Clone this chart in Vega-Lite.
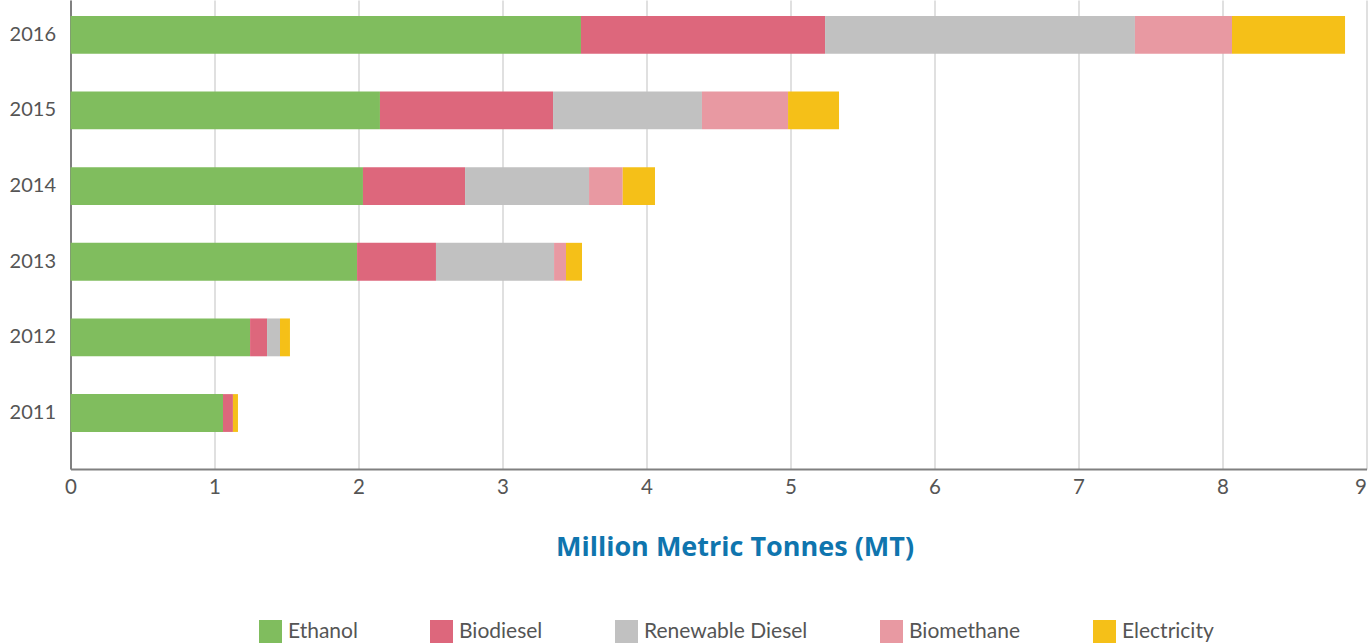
{
  "$schema": "https://vega.github.io/schema/vega-lite/v6.json",
  "autosize": {"type": "none"},
  "padding": {"left": 70.5, "top": 0, "right": 2.5, "bottom": 174},
  "width": 1296,
  "height": 469,
  "background": "white",
  "data": {"values": [
    {"year": "2016", "fuel": "Ethanol", "rank": 1, "value": 3.545},
    {"year": "2016", "fuel": "Biodiesel", "rank": 2, "value": 1.695},
    {"year": "2016", "fuel": "Renewable Diesel", "rank": 3, "value": 2.152},
    {"year": "2016", "fuel": "Biomethane", "rank": 4, "value": 0.674},
    {"year": "2016", "fuel": "Electricity", "rank": 5, "value": 0.785},
    {"year": "2015", "fuel": "Ethanol", "rank": 1, "value": 2.149},
    {"year": "2015", "fuel": "Biodiesel", "rank": 2, "value": 1.202},
    {"year": "2015", "fuel": "Renewable Diesel", "rank": 3, "value": 1.034},
    {"year": "2015", "fuel": "Biomethane", "rank": 4, "value": 0.598},
    {"year": "2015", "fuel": "Electricity", "rank": 5, "value": 0.354},
    {"year": "2014", "fuel": "Ethanol", "rank": 1, "value": 2.031},
    {"year": "2014", "fuel": "Biodiesel", "rank": 2, "value": 0.709},
    {"year": "2014", "fuel": "Renewable Diesel", "rank": 3, "value": 0.861},
    {"year": "2014", "fuel": "Biomethane", "rank": 4, "value": 0.234},
    {"year": "2014", "fuel": "Electricity", "rank": 5, "value": 0.224},
    {"year": "2013", "fuel": "Ethanol", "rank": 1, "value": 1.99},
    {"year": "2013", "fuel": "Biodiesel", "rank": 2, "value": 0.548},
    {"year": "2013", "fuel": "Renewable Diesel", "rank": 3, "value": 0.82},
    {"year": "2013", "fuel": "Biomethane", "rank": 4, "value": 0.083},
    {"year": "2013", "fuel": "Electricity", "rank": 5, "value": 0.111},
    {"year": "2012", "fuel": "Ethanol", "rank": 1, "value": 1.247},
    {"year": "2012", "fuel": "Biodiesel", "rank": 2, "value": 0.118},
    {"year": "2012", "fuel": "Renewable Diesel", "rank": 3, "value": 0.09},
    {"year": "2012", "fuel": "Electricity", "rank": 5, "value": 0.069},
    {"year": "2011", "fuel": "Ethanol", "rank": 1, "value": 1.059},
    {"year": "2011", "fuel": "Biodiesel", "rank": 2, "value": 0.069},
    {"year": "2011", "fuel": "Electricity", "rank": 5, "value": 0.035}
  ]},
  "mark": {"type": "bar"},
  "encoding": {
    "y": {
      "field": "year", "type": "nominal", "sort": "descending",
      "scale": {"paddingInner": 0.5, "paddingOuter": 0.35, "align": 0.3},
      "axis": {"title": null, "ticks": false, "labelPadding": 15, "labelFontSize": 20, "labelColor": "#555555", "labelFont": "Lato", "domainColor": "#808080", "domainWidth": 2}
    },
    "x": {
      "field": "value", "type": "quantitative", "stack": "zero",
      "scale": {"domain": [0, 9], "nice": false},
      "axis": {
        "title": "Million Metric Tonnes (MT)",
        "titleFont": "Open Sans", "titleFontSize": 27, "titleFontWeight": "bold", "titleColor": "#0f75ae",
        "titlePadding": 37, "titleX": 664,
        "tickCount": 9, "ticks": false, "labelPadding": 8, "labelFlush": false,
        "labelAlign": {"condition": {"test": "datum.value == 9", "value": "right"}, "value": "center"},
        "labelFontSize": 20.5, "labelColor": "#555555", "labelFont": "Lato",
        "domainColor": "#808080", "domainWidth": 2,
        "grid": true, "gridColor": "#d6d6d6", "gridWidth": 1.5
      }
    },
    "order": {"field": "rank", "type": "quantitative", "sort": "ascending"},
    "color": {
      "field": "fuel", "type": "nominal",
      "scale": {
        "domain": ["Ethanol", "Biodiesel", "Renewable Diesel", "Biomethane", "Electricity"],
        "range": ["#80bd5e", "#dd677c", "#c1c1c1", "#e899a2", "#f5c018"]
      },
      "legend": {
        "title": null, "orient": "none", "direction": "horizontal",
        "legendX": 188.5, "legendY": 620,
        "symbolType": "square", "symbolSize": 529, "symbolStrokeWidth": 0,
        "labelFontSize": 21, "labelColor": "#555555", "labelFont": "Lato", "labelLimit": 400,
        "labelOffset": 6, "columnPadding": 72
      }
    }
  },
  "config": {"view": {"stroke": null}}
}
